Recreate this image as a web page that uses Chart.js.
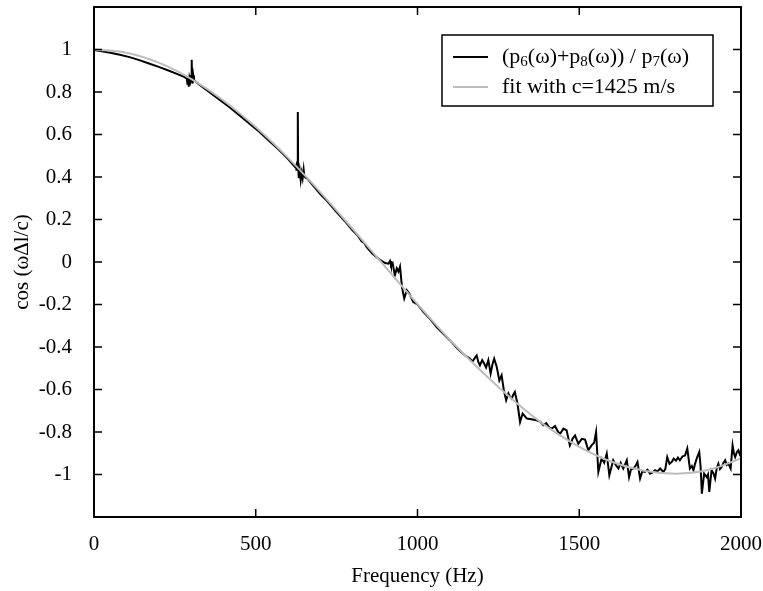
<!DOCTYPE html>
<html>
<head>
<meta charset="utf-8">
<script src="https://cdn.jsdelivr.net/npm/chart.js@4"></script>
<style>
  html, body { margin: 0; padding: 0; background: #fff; }
  #wrap { width: 763px; height: 591px; }
</style>
</head>
<body>
<div id="wrap"><canvas id="c" width="763" height="591"></canvas></div>
<script>
const freqHz = [0, 20, 50, 80, 110, 140, 170, 200, 230, 260, 280, 287, 289, 291, 293, 295, 298, 300, 302, 303, 305, 307, 309, 312,
	330, 360, 390, 420, 450, 480, 510, 540, 570, 600, 615, 621, 624, 626, 628, 630, 631, 633, 636, 639, 642, 645, 648, 650, 653, 660,
	678, 700, 720, 750, 775, 797, 815, 827, 835, 843, 860, 884, 900, 910, 915, 918, 923, 930, 936, 941, 946, 952, 959, 967, 975, 987,
	1000, 1018, 1040, 1059, 1080, 1100, 1125, 1147, 1160, 1170, 1178, 1183, 1188, 1193, 1200, 1206, 1212, 1219, 1226, 1232, 1237, 1245,
	1253, 1260, 1267, 1274, 1281, 1286, 1291, 1296, 1301, 1309, 1317, 1325, 1338, 1352, 1368, 1380, 1389, 1398, 1407, 1415, 1425, 1435,
	1441, 1451, 1461, 1471, 1480, 1487, 1497, 1508, 1518, 1528, 1538, 1546, 1552, 1559, 1569, 1577, 1585, 1593, 1605, 1613, 1621, 1628,
	1636, 1647, 1654, 1660, 1667, 1674, 1680, 1688, 1695, 1703, 1711, 1719, 1727, 1734, 1742, 1750, 1760, 1766, 1772, 1779, 1786, 1792,
	1799, 1805, 1811, 1819, 1827, 1834, 1842, 1848, 1853, 1858, 1863, 1871, 1875, 1879, 1886, 1894, 1898, 1902, 1909, 1915, 1920, 1925,
	1930, 1935, 1940, 1946, 1951, 1956, 1961, 1968, 1974, 1978, 1982, 1987, 1992, 1996, 2000];
const ratio = [0.998, 0.993, 0.985, 0.975, 0.964, 0.950, 0.934, 0.918, 0.901, 0.883, 0.870, 0.862, 0.835, 0.870, 0.825, 0.868, 0.850, 0.875, 0.952, 0.860, 0.840, 0.878, 0.858, 0.852,
	0.830, 0.796, 0.762, 0.727, 0.690, 0.652, 0.614, 0.572, 0.530, 0.484, 0.458, 0.448, 0.455, 0.430, 0.470, 0.706, 0.450, 0.395, 0.430, 0.385, 0.420, 0.395, 0.435, 0.405, 0.398, 0.392,
	0.358, 0.318, 0.288, 0.235, 0.193, 0.152, 0.125, 0.098, 0.090, 0.070, 0.040, 0.010, -0.005, -0.008, 0.005, -0.015, -0.005, -0.063, -0.030, -0.045, -0.022, -0.118, -0.172, -0.133, -0.150, -0.188,
	-0.200, -0.235, -0.270, -0.306, -0.338, -0.368, -0.410, -0.440, -0.452, -0.468, -0.450, -0.440, -0.470, -0.486, -0.462, -0.478, -0.497, -0.462, -0.525, -0.480, -0.455, -0.494,
	-0.557, -0.533, -0.604, -0.651, -0.619, -0.635, -0.643, -0.625, -0.612, -0.666, -0.753, -0.713, -0.737, -0.740, -0.745, -0.752, -0.768, -0.758, -0.778, -0.784, -0.772, -0.800,
	-0.808, -0.784, -0.792, -0.863, -0.830, -0.816, -0.855, -0.832, -0.836, -0.886, -0.863, -0.850, -0.800, -0.988, -0.925, -0.945, -0.902, -1.004, -0.933, -0.955, -0.972, -0.945,
	-0.972, -0.933, -1.012, -0.975, -0.972, -0.960, -0.941, -1.019, -0.985, -0.988, -0.978, -0.996, -0.990, -0.980, -0.985, -0.972, -0.988, -0.975, -0.918, -0.950, -0.941, -0.925,
	-0.935, -0.920, -0.933, -0.915, -0.910, -0.878, -0.972, -0.960, -0.980, -0.950, -0.925, -0.894, -0.960, -1.090, -0.996, -1.012, -1.000, -1.082, -0.980, -0.995, -1.019, -0.970,
	-0.949, -0.975, -0.965, -0.945, -0.933, -0.955, -0.949, -0.972, -0.863, -0.900, -0.918, -0.895, -0.886, -0.905, -0.894];

// fit with c=1425 m/s
const fitFreq = [0, 100, 200, 300, 400, 500, 600, 700, 800, 900, 1000, 1100, 1200, 1300, 1400, 1500, 1600, 1700, 1800, 1900, 2000];
const fitVal = [1.000, 0.985, 0.938, 0.862, 0.760, 0.635, 0.490, 0.328, 0.155, -0.022, -0.198, -0.366, -0.518, -0.655, -0.775, -0.870, -0.940, -0.982, -0.996, -0.978, -0.925];

const xTicks = [0, 500, 1000, 1500, 2000];
const yTicks = [-1, -0.8, -0.6, -0.4, -0.2, 0, 0.2, 0.4, 0.6, 0.8, 1];

const FONT = '"Liberation Serif", "Times New Roman", serif';

// 안쪽 눈금 + 테두리 (gnuplot 스타일)
const framePlugin = {
	id: 'frame',
	afterDraw(chart) {
		const { ctx, chartArea: a, scales } = chart;
		const len = 8;
		ctx.save();
		ctx.strokeStyle = '#000';
		ctx.lineWidth = 1.5;
		ctx.beginPath();
		xTicks.forEach(v => {
			const px = scales.x.getPixelForValue(v);
			ctx.moveTo(px, a.bottom); ctx.lineTo(px, a.bottom - len);
			ctx.moveTo(px, a.top); ctx.lineTo(px, a.top + len);
		});
		yTicks.forEach(v => {
			const py = scales.y.getPixelForValue(v);
			ctx.moveTo(a.left, py); ctx.lineTo(a.left + len, py);
			ctx.moveTo(a.right, py); ctx.lineTo(a.right - len, py);
		});
		ctx.stroke();
		ctx.lineWidth = 2;
		ctx.strokeRect(a.left, a.top, a.right - a.left, a.bottom - a.top);
		ctx.restore();
	}
};

// 범례 (아래첨자 때문에 직접 그림)
const legendPlugin = {
	id: 'richLegend',
	afterDraw(chart) {
		const ctx = chart.ctx;
		const box = { x: 442, y: 35, w: 271, h: 71 };
		ctx.save();
		ctx.fillStyle = '#fff';
		ctx.fillRect(box.x, box.y, box.w, box.h);
		ctx.strokeStyle = '#000';
		ctx.lineWidth = 1.5;
		ctx.strokeRect(box.x, box.y, box.w, box.h);

		const rows = [
			{ color: '#000', y: 57, parts: [['(p', 0], ['6', 1], ['(\u03c9)+p', 0], ['8', 1], ['(\u03c9)) / p', 0], ['7', 1], ['(\u03c9)', 0]] },
			{ color: '#bdbdbd', y: 87, parts: [['fit with c=1425 m/s', 0]] }
		];
		rows.forEach(r => {
			ctx.strokeStyle = r.color;
			ctx.lineWidth = 2;
			ctx.beginPath();
			ctx.moveTo(453, r.y); ctx.lineTo(488, r.y);
			ctx.stroke();
			let x = 502;
			ctx.fillStyle = '#000';
			ctx.textBaseline = 'middle';
			r.parts.forEach(([t, sub]) => {
				ctx.font = (sub ? '15px ' : '22px ') + FONT;
				ctx.fillText(t, x, r.y + (sub ? 5 : 0));
				x += ctx.measureText(t).width;
			});
		});
		ctx.restore();
	}
};

const measured = freqHz.map((f, i) => ({ x: f, y: ratio[i] }));
const fitted = fitFreq.map((f, i) => ({ x: f, y: fitVal[i] }));

new Chart(document.getElementById('c'), {
	type: 'line',
	data: {
		datasets: [
			{ label: '(p6(ω)+p8(ω)) / p7(ω)', data: measured, borderColor: '#000', borderWidth: 2, pointRadius: 0, tension: 0, order: 2 },
			{ label: 'fit with c=1425 m/s', data: fitted, borderColor: '#bdbdbd', borderWidth: 2, pointRadius: 0, cubicInterpolationMode: 'monotone', order: 1 }
		]
	},
	options: {
		responsive: false,
		animation: false,
		devicePixelRatio: 1,
		layout: { padding: { top: 7, right: 22, left: 0, bottom: 0 } },
		plugins: { legend: { display: false }, tooltip: { enabled: false } },
		scales: {
			x: {
				type: 'linear', min: 0, max: 2000,
				afterBuildTicks: s => { s.ticks = xTicks.map(v => ({ value: v })); },
				afterFit: s => { s.height = 74; s.paddingLeft = 0; s.paddingRight = 0; },
				ticks: { color: '#000', font: { family: FONT, size: 21 }, padding: 7, maxRotation: 0, callback: v => String(v) },
				grid: { display: false },
				border: { display: false },
				title: { display: true, text: 'Frequency (Hz)', color: '#000', font: { family: FONT, size: 21 }, padding: { top: 0, bottom: 1.5 } }
			},
			y: {
				type: 'linear', min: -1.2, max: 1.2,
				afterBuildTicks: s => { s.ticks = yTicks.map(v => ({ value: v })); },
				afterFit: s => { s.width = 94; s.paddingTop = 0; s.paddingBottom = 0; },
				ticks: {
					color: '#000', font: { family: FONT, size: 21 }, padding: 14,
					callback: v => String(+v.toFixed(1))
				},
				grid: { display: false },
				border: { display: false },
				title: { display: true, text: 'cos (\u03c9\u0394l/c)', color: '#000', font: { family: FONT, size: 21 }, padding: { top: 9.5, bottom: 0 } }
			}
		}
	},
	plugins: [framePlugin, legendPlugin]
});
</script>
</body>
</html>
